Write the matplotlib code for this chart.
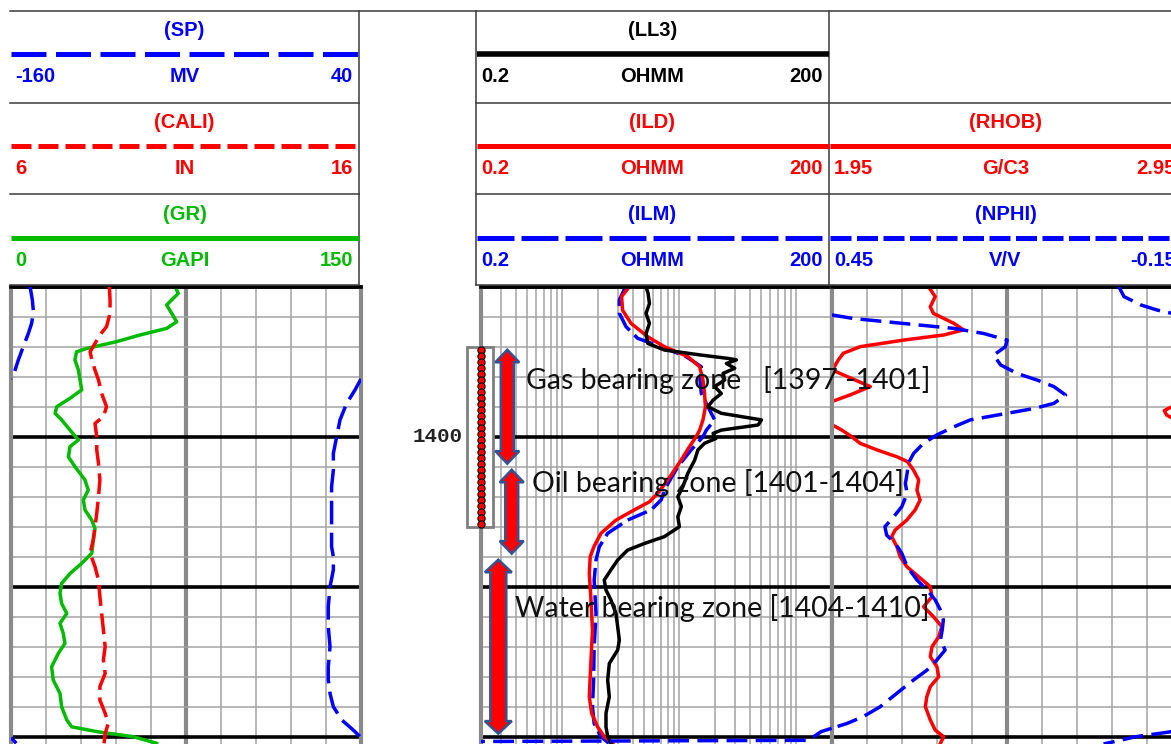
import numpy as np
import matplotlib
matplotlib.use("Agg")
import matplotlib.pyplot as plt
from matplotlib.patches import Polygon, Rectangle
from matplotlib.ticker import FixedLocator, LogLocator
from matplotlib.transforms import blended_transform_factory

# ---------------------------------------------------------------- log data
gr_depth = [1395.0, 1395.22, 1395.61, 1395.89, 1396.17, 1396.39, 1396.61, 1396.83, 1397.06, 1397.17,
            1397.44, 1397.78, 1398.11, 1398.44, 1398.72, 1399.0, 1399.22, 1399.44, 1399.78, 1400.11,
            1400.33, 1400.67, 1401.0, 1401.44, 1401.78, 1402.11, 1402.44, 1402.78, 1403.06, 1403.44,
            1403.89, 1404.22, 1404.56, 1404.89, 1405.22, 1405.56, 1405.89, 1406.22, 1406.56, 1406.89,
            1407.22, 1407.67, 1408.11, 1408.56, 1409.0, 1409.44, 1409.67, 1409.83, 1410.0, 1410.22]
gr = [70.3, 71.7, 66.7, 68.9, 71.0, 66.7, 55.3, 45.3, 32.4, 28.1,
      27.4, 28.9, 29.6, 30.3, 25.3, 19.6, 18.9, 21.7, 25.3, 28.9,
      25.3, 24.6, 27.4, 31.7, 33.1, 31.0, 31.7, 34.6, 36.0, 35.3,
      34.6, 30.3, 25.3, 21.7, 21.0, 21.7, 23.9, 21.0, 22.4, 23.1,
      20.3, 17.4, 18.1, 21.0, 21.7, 23.9, 26.0, 36.7, 52.4, 62.4]

cali_depth = [1395.0, 1395.44, 1395.89, 1396.33, 1396.61, 1396.89, 1397.17, 1397.44, 1397.78, 1398.11,
              1398.56, 1399.0, 1399.33, 1399.56, 1400.0, 1400.44, 1400.89, 1401.44, 1402.0, 1402.56,
              1403.0, 1403.44, 1403.89, 1404.33, 1404.78, 1405.33, 1405.89, 1406.44, 1407.0, 1407.44,
              1407.89, 1408.33, 1408.78, 1409.22, 1409.56, 1409.89, 1410.22]
cali = [8.81, 8.83, 8.83, 8.73, 8.54, 8.40, 8.26, 8.31, 8.40, 8.50,
        8.59, 8.73, 8.64, 8.40, 8.45, 8.45, 8.50, 8.54, 8.50, 8.45,
        8.40, 8.35, 8.26, 8.40, 8.50, 8.54, 8.59, 8.64, 8.69, 8.64,
        8.69, 8.54, 8.54, 8.69, 8.78, 8.69, 8.66]

sp_depth = [1395.0, 1395.44, 1395.83, 1396.22, 1396.56, 1397.0, 1397.44, 1397.89, 1398.44, 1398.89,
            1399.44, 1400.0, 1400.56, 1401.11, 1401.67, 1402.33, 1403.0, 1403.67, 1404.0, 1404.44,
            1405.0, 1405.67, 1406.33, 1407.0, 1407.67, 1408.11, 1408.56, 1409.0, 1409.44, 1409.78,
            1410.0, 1410.22]
sp = [-149.1, -147.8, -147.2, -148.2, -150.1, -153.0, -155.8, -158.3, -163.4, -168.2,
      -172.0, -173.9, -175.8, -175.8, -176.8, -176.8, -176.8, -176.8, -175.8, -175.8,
      -177.7, -178.7, -178.7, -177.7, -178.7, -178.7, -177.7, -175.8, -171.0, -164.4,
      -160.5, -157.0]

ild_depth = [1395.0, 1395.33, 1395.78, 1396.22, 1396.67, 1397.0, 1397.33, 1397.67, 1398.11, 1398.56,
             1399.0, 1399.44, 1399.78, 1400.0, 1400.33, 1400.78, 1401.44, 1401.89, 1402.17, 1402.44,
             1402.78, 1403.22, 1403.67, 1404.0, 1404.56, 1405.33, 1406.44, 1407.56, 1408.67, 1409.22,
             1409.67, 1410.0, 1410.22]
ild = [3.73, 3.21, 3.27, 3.86, 5.37, 7.45, 11.8, 14.9, 15.9, 16.4,
       16.7, 15.9, 14.9, 13.9, 12.2, 10.35, 7.96, 6.53, 5.55, 4.12,
       2.87, 2.14, 1.86, 1.73, 1.70, 1.75, 1.81, 1.75, 1.70, 1.78,
       2.0, 2.28, 2.69]

ilm_depth = [1395.0, 1395.44, 1395.89, 1396.33, 1396.72, 1397.0, 1397.33, 1397.67, 1398.11, 1398.56,
             1399.0, 1399.44, 1399.78, 1400.0, 1400.44, 1401.0, 1401.67, 1402.11, 1402.44, 1402.78,
             1403.22, 1403.67, 1404.11, 1404.78, 1405.89, 1407.0, 1408.11, 1409.0, 1409.56, 1410.0,
             1410.22]
ilm = [3.47, 3.07, 3.07, 3.50, 4.40, 6.98, 11.4, 15.4, 15.0, 15.4,
       17.5, 20.0, 17.0, 15.9, 12.6, 9.7, 7.7, 6.98, 5.73, 3.61,
       2.44, 2.07, 1.94, 1.87, 1.94, 1.87, 1.85, 1.81, 1.87, 2.14,
       2.5]

ll3_depth = [1395.0, 1395.22, 1395.56, 1395.89, 1396.22, 1396.56, 1396.89, 1397.11, 1397.28, 1397.39,
             1397.44, 1397.56, 1397.72, 1397.89, 1398.11, 1398.33, 1398.56, 1398.78, 1399.0, 1399.22,
             1399.44, 1399.61, 1399.78, 1399.89, 1400.06, 1400.22, 1400.44, 1400.78, 1401.22, 1401.67,
             1402.0, 1402.33, 1402.67, 1403.0, 1403.33, 1403.56, 1403.78, 1404.11, 1404.44, 1404.78,
             1405.11, 1405.44, 1405.89, 1406.33, 1406.78, 1407.11, 1407.56, 1408.11, 1408.67, 1409.22,
             1409.67, 1410.0, 1410.22]
ll3 = [5.19, 5.40, 5.55, 5.19, 5.55, 5.19, 5.37, 7.45, 15.4, 26.0,
       30.7, 25.2, 29.7, 23.6, 24.4, 20.0, 22.8, 19.4, 17.5, 22.8,
       50.2, 47.0, 22.8, 19.4, 20.5, 16.4, 14.4, 13.5, 11.8, 10.7,
       9.7, 10.4, 9.7, 10.0, 7.45, 5.02, 3.61, 2.97, 2.60, 2.28,
       2.36, 2.60, 2.87, 2.97, 3.07, 2.97, 2.52, 2.44, 2.52, 2.36,
       2.36, 2.44, 2.60]

rhob_depth = [1395.0, 1395.33, 1395.67, 1395.89, 1396.22, 1396.44, 1396.61, 1396.78, 1397.0, 1397.22,
              1397.44, 1397.78, 1398.06, 1398.33, 1398.61, 1398.83, 1399.0, 1399.13, 1399.28, 1399.44,
              1399.61, 1399.78, 1400.0, 1400.22, 1400.44, 1400.67, 1400.83, 1401.11, 1401.44, 1401.78,
              1402.11, 1402.44, 1402.78, 1403.11, 1403.33, 1403.67, 1404.0, 1404.33, 1404.67, 1405.0,
              1405.33, 1405.67, 1406.0, 1406.33, 1406.67, 1407.0, 1407.33, 1407.67, 1408.0, 1408.33,
              1408.67, 1409.0, 1409.44, 1409.78, 1410.0, 1410.22]
rhob = [2.226, 2.245, 2.231, 2.240, 2.298, 2.326, 2.269, 2.155, 2.031, 1.983,
        1.969, 1.952, 2.007, 2.060, 2.002, 1.950, 1.920, 1.898, 1.905, 1.930,
        1.952, 1.979, 2.007, 2.031, 2.079, 2.136, 2.166, 2.183, 2.198, 2.193,
        2.202, 2.188, 2.164, 2.131, 2.121, 2.136, 2.145, 2.164, 2.198, 2.231,
        2.236, 2.212, 2.240, 2.264, 2.255, 2.236, 2.231, 2.250, 2.255, 2.231,
        2.221, 2.217, 2.231, 2.245, 2.269, 2.260]

nphi_depth = [1395.0, 1395.33, 1395.61, 1395.78, 1395.89, 1395.94, 1396.06, 1396.17, 1396.28, 1396.39,
              1396.56, 1396.78, 1397.0, 1397.28, 1397.61, 1397.89, 1398.11, 1398.33, 1398.61, 1398.89,
              1399.06, 1399.22, 1399.44, 1399.67, 1399.94, 1400.22, 1400.56, 1400.89, 1401.22, 1401.56,
              1401.89, 1402.33, 1402.67, 1403.0, 1403.28, 1403.56, 1403.89, 1404.33, 1404.78, 1405.11,
              1405.44, 1405.78, 1406.11, 1406.44, 1406.78, 1407.11, 1407.44, 1407.78, 1408.11, 1408.56,
              1409.0, 1409.33, 1409.56, 1409.72, 1409.83, 1410.0, 1410.17, 1410.24]
nphi = [0.559, 0.550, 0.521, 0.493, 0.468, 0.450, 0.413, 0.356, 0.299, 0.241,
        0.190, 0.150, 0.153, 0.173, 0.161, 0.133, 0.099, 0.070, 0.050, 0.070,
        0.104, 0.150, 0.213, 0.241, 0.270, 0.293, 0.310, 0.319, 0.321, 0.324,
        0.321, 0.330, 0.344, 0.359, 0.356, 0.341, 0.330, 0.321, 0.304, 0.287,
        0.273, 0.264, 0.259, 0.261, 0.264, 0.256, 0.270, 0.287, 0.310, 0.339,
        0.367, 0.396, 0.424, 0.450, 0.468, 0.530, 0.568, 0.585]
# last neutron readings running off-scale at the bottom of the interval
nphi_tail_depth = [1409.72, 1409.83, 1410.12, 1410.16]
nphi_tail = [0.450, 0.468, 0.490, 1.06]

# interpretation
zone_names = ["Gas", "Oil", "Water"]
zone_top = [1397, 1401, 1404]
zone_base = [1401, 1404, 1410]
core_top, core_base = 1397, 1403
depth_labels = [1400]

# ---------------------------------------------------------------- layout
W, H, DPI = 1171, 744, 100
BODY_TOP = 286.7          # pixel row of the first depth in the body
PX_PER_FT = 30.0
D_TOP = 1395.0
D_BOT = D_TOP + (H - BODY_TOP) / PX_PER_FT
T1 = (11.0, 361.0)
T2 = (480.5, 831.7)
T3 = (831.7, 1182.5)

BLUE, RED, GREEN, BLACK = "#0000FF", "#FF0000", "#00BB00", "#000000"
GRID_THIN, GRID_THICK = "#A3A3A3", "#8A8A8A"

fig = plt.figure(figsize=(W / DPI, H / DPI), dpi=DPI)


def fbox(x0, x1, y0, y1):
    return [x0 / W, 1 - y1 / H, (x1 - x0) / W, (y1 - y0) / H]


def style_track(ax, minor_x, major_x):
    ax.set_ylim(D_BOT, D_TOP)
    ax.yaxis.set_major_locator(FixedLocator(np.arange(1395, 1411, 5)))
    ax.yaxis.set_minor_locator(FixedLocator(np.arange(1395, 1411, 1)))
    if minor_x is not None:
        ax.xaxis.set_minor_locator(FixedLocator(minor_x))
        ax.xaxis.set_major_locator(FixedLocator(major_x))
    ax.xaxis.grid(True, which="minor", color=GRID_THIN, lw=1.1)
    ax.xaxis.grid(True, which="major", color=GRID_THICK if minor_x is not None else GRID_THIN,
                  lw=3.0 if minor_x is not None else 1.1)
    ax.yaxis.grid(True, which="minor", color=GRID_THIN, lw=1.1)
    ax.yaxis.grid(True, which="major", color=BLACK, lw=2.6)
    ax.set_axisbelow(True)
    ax.tick_params(which="both", length=0, labelleft=False, labelbottom=False,
                   labeltop=False, labelright=False)
    for side in ("left", "right"):
        ax.spines[side].set_color(GRID_THICK)
        ax.spines[side].set_linewidth(3.0)
    ax.spines["top"].set_color(BLACK)
    ax.spines["top"].set_linewidth(2.6)
    ax.spines["bottom"].set_visible(False)


def twin(ax, lo, hi):
    t = ax.twiny()
    t.set_xlim(lo, hi)
    t.set_ylim(D_BOT, D_TOP)
    t.axis("off")
    return t


def wrap_curve(depth, values, lo, hi):
    """Fold readings that run past a track edge back in by one scale width."""
    depth = np.asarray(depth, float)
    values = np.asarray(values, float)
    span = hi - lo
    k = np.floor((values - lo) / span)
    xs, ys = [], []
    for i in range(len(values)):
        if i > 0 and k[i] != k[i - 1]:
            b = lo + span * max(k[i], k[i - 1])
            t = (b - values[i - 1]) / (values[i] - values[i - 1])
            db = depth[i - 1] + t * (depth[i] - depth[i - 1])
            xs += [b - k[i - 1] * span, np.nan, b - k[i] * span]
            ys += [db, np.nan, db]
        xs.append(values[i] - k[i] * span)
        ys.append(depth[i])
    return np.array(xs), np.array(ys)


LW = 2.5
# ---------------- track 1: GR / CALI / SP
ax1 = fig.add_axes(fbox(*T1, BODY_TOP, H))
ax1.set_xlim(0, 150)
style_track(ax1, np.linspace(0, 150, 11), [75])
ax1.plot(gr, gr_depth, color=GREEN, lw=LW)
ax1c = twin(ax1, 6, 16)
ax1c.plot(cali, cali_depth, color=RED, lw=LW, dashes=(6, 2.2))
ax1s = twin(ax1, -160, 40)
spx, spy = wrap_curve(sp_depth, sp, -160, 40)
ax1s.plot(spx, spy, color=BLUE, lw=LW, dashes=(6.8, 2.4))

# ---------------- track 2: resistivities (log)
ax2 = fig.add_axes(fbox(*T2, BODY_TOP, H))
ax2.set_xscale("log")
ax2.set_xlim(0.2, 200)
style_track(ax2, None, None)
ax2.xaxis.set_major_locator(LogLocator(base=10, subs=(1.0,)))
ax2.xaxis.set_minor_locator(LogLocator(base=10, subs=np.arange(2, 10)))
ax2.plot(ilm, ilm_depth, color=BLUE, lw=LW, dashes=(6, 1.9))
ax2.plot(ild, ild_depth, color=RED, lw=LW)
ax2.plot(ll3, ll3_depth, color=BLACK, lw=LW)

# ---------------- track 3: RHOB / NPHI
ax3 = fig.add_axes(fbox(*T3, BODY_TOP, H))
ax3.set_xlim(1.95, 2.95)
style_track(ax3, np.linspace(1.95, 2.95, 11), [2.45])
rx, ry = wrap_curve(rhob_depth, rhob, 1.95, 2.95)
ax3.plot(rx, ry, color=RED, lw=LW)
ax3n = twin(ax3, 0.45, -0.15)
nx, ny = wrap_curve(nphi_depth, nphi, -0.15, 0.45)
ax3n.plot(nx, ny, color=BLUE, lw=LW, dashes=(6, 2.4))
tail, = ax3n.plot(nphi_tail, nphi_tail_depth, color=BLUE, lw=LW, dashes=(6, 2.4))
tail.set_clip_path(Rectangle((T2[0] / W, 0), (T3[1] - T2[0]) / W, 1 - BODY_TOP / H,
                             transform=fig.transFigure))

# ---------------------------------------------------------------- overlay
ov = fig.add_axes([0, 0, 1, 1], zorder=10)
ov.set_xlim(0, W)
ov.set_ylim(H, 0)
ov.axis("off")
dep = blended_transform_factory(ov.transData, ax1.transData)   # x: pixels, y: depth

# header frame
HDR = dict(color="#3A3A3A", lw=1.1)
ov.plot([10, W], [11, 11], **HDR)
for y in (102.5, 193.5, 284.5):
    ov.plot([10, 359], [y, y], **HDR)
    ov.plot([476, W], [y, y], **HDR)
for x in (359, 476, 829):
    ov.plot([x, x], [11, 285], **HDR)

HFONT = dict(family=["Liberation Sans", "DejaVu Sans"], weight="bold", fontsize=14.5)
headers = [
    # (x0, x1, row, name, unit, left, right, colour, line style)
    (10, 359, 0, "(SP)", "MV", "-160", "40", BLUE, dict(dashes=(7, 1.9))),
    (10, 359, 1, "(CALI)", "IN", "6", "16", RED, dict(dashes=(4, 1.4))),
    (10, 359, 2, "(GR)", "GAPI", "0", "150", GREEN, dict()),
    (476, 829, 0, "(LL3)", "OHMM", "0.2", "200", BLACK, dict()),
    (476, 829, 1, "(ILD)", "OHMM", "0.2", "200", RED, dict()),
    (476, 829, 2, "(ILM)", "OHMM", "0.2", "200", BLUE, dict(dashes=(7.4, 1.4))),
    (829, 1182, 1, "(RHOB)", "G/C3", "1.95", "2.95", RED, dict()),
    (829, 1182, 2, "(NPHI)", "V/V", "0.45", "-0.15", BLUE, dict(dashes=(4.2, 1.1))),
]
for x0, x1, row, name, unit, left, right, col, ls in headers:
    yb = 92 * row
    xc = (x0 + x1) / 2
    ov.text(xc, 31 + yb, name, color=col, ha="center", va="center", **HFONT)
    lw = 4.0 if col == BLACK else 3.6
    ov.plot([x0 + 1, x1], [54 + yb, 54 + yb], color=col, lw=lw, solid_capstyle="butt", **ls)
    ov.text(x0 + 5, 77 + yb, left, color=col, ha="left", va="center", **HFONT)
    ov.text(xc, 77 + yb, unit, color=col, ha="center", va="center", **HFONT)
    ov.text(x1 - 6, 77 + yb, right, color=col, ha="right", va="center", **HFONT)

# depth annotation
for d in depth_labels:
    ov.text(437.5, d, f"{d}", transform=dep, ha="center", va="center",
            family=["Liberation Mono", "DejaVu Sans Mono"], fontsize=15, weight="bold",
            color="#222222")

# cored interval
ov.add_patch(Rectangle((466.7, core_top), 26.6, core_base - core_top, transform=dep,
                       facecolor="white", edgecolor="#7F7F7F", lw=2.0))
chain = np.arange(core_top + 0.1, core_base - 0.05, 0.2)
ov.plot(np.full(chain.size, 480.5), chain, transform=dep, color=BLACK, lw=1.6,
        marker="o", markersize=5.2, markerfacecolor=RED, markeredgecolor=BLACK, markeredgewidth=0.8)

# fluid zones: double-headed arrows and labels
arrow_x = [507.3, 511.7, 498.3]
arrow_half = [(6.5, 12.0), (6.5, 12.0), (8.0, 13.5)]
label_x = [526, 532, 515]
label_depth = [1398.1, 1401.55, 1405.72]
labels = [f"Gas bearing zone   [{zone_top[0]} -{zone_base[0]}]",
          f"Oil bearing zone [{zone_top[1]}-{zone_base[1]}]",
          f"Water bearing zone [{zone_top[2]}-{zone_base[2]}]"]
HEAD = 0.42  # head length, ft
for i in range(len(zone_names)):
    xc = arrow_x[i]
    sw, hw = arrow_half[i]
    d0, d1 = zone_top[i] + 0.1, zone_base[i] - 0.1
    pts = [(xc, d0), (xc + hw, d0 + HEAD), (xc + sw, d0 + HEAD), (xc + sw, d1 - HEAD),
           (xc + hw, d1 - HEAD), (xc, d1), (xc - hw, d1 - HEAD), (xc - sw, d1 - HEAD),
           (xc - sw, d0 + HEAD), (xc - hw, d0 + HEAD)]
    ov.add_patch(Polygon(pts, closed=True, transform=dep, facecolor=RED,
                         edgecolor="#2F5597", lw=1.8, joinstyle="miter"))
    ov.text(label_x[i], label_depth[i], labels[i], transform=dep, ha="left", va="center",
            family=["Lato", "DejaVu Sans"], fontsize=20.5, color="#111111")

fig.savefig("out.png", dpi=DPI)
